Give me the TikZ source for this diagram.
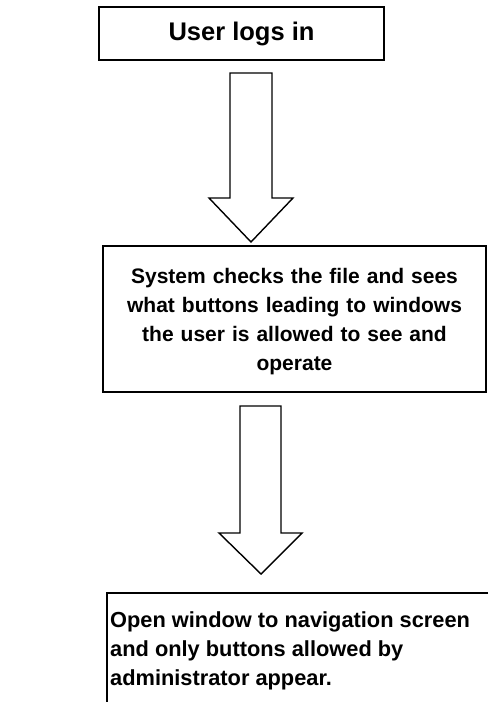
\documentclass[tikz,border=0pt]{standalone}
\usepackage{fontspec}
\setmainfont{Liberation Sans}
\begin{document}
\begin{tikzpicture}[x=1pt,y=-1pt,
  box/.style={draw=black,line width=2pt},
  txt/.style={font=\bfseries\fontsize{21}{29}\selectfont,inner sep=0pt},
  blockarrow/.style={draw=black,line width=1.4pt,fill=white,line join=miter}]
\useasboundingbox (0,0) rectangle (488,702);
% box 1
\draw[box] (99,7) rectangle (384,60);
\node[txt,font=\bfseries\fontsize{25.5}{29}\selectfont] (b1) at (241.5,34) {User logs in};
% arrow 1
\draw[blockarrow] (230,73) -- (272,73) -- (272,198) -- (293,198) -- (251,242) -- (209,198) -- (230,198) -- cycle;
% box 2
\draw[box] (103,246) rectangle (486,392);
\node[txt,align=center,text width=380pt] (b2) at (294.5,322) {System checks the file and sees\\what buttons leading to windows\\the user is allowed to see and\\operate};
% arrow 2
\draw[blockarrow] (240,406) -- (281,406) -- (281,533) -- (302,533) -- (261,574) -- (219,533) -- (240,533) -- cycle;
% box 3 (cut off)
\draw[box] (488,593) -- (107,593) -- (107,703);
\node[txt,font=\bfseries\fontsize{21.8}{29}\selectfont,align=left,anchor=north west] (b3) at (110,611) {Open window to navigation screen\\and only buttons allowed by\\administrator appear.};
\end{tikzpicture}
\end{document}
